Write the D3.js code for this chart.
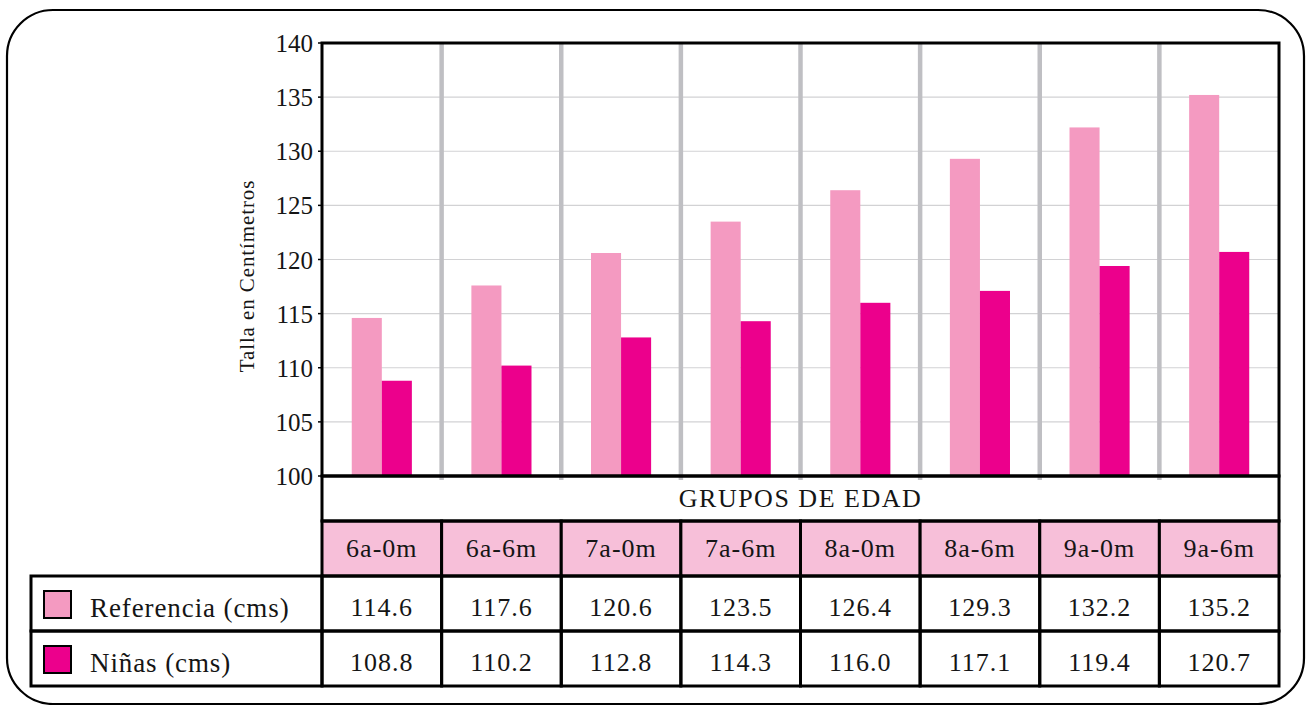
<!DOCTYPE html>
<html><head><meta charset="utf-8">
<script src="https://cdn.jsdelivr.net/npm/d3@7/dist/d3.min.js"></script>
<style>body{margin:0;background:#fff}svg{display:block}</style>
</head><body><svg id="c" width="1311" height="705" font-family="'Liberation Serif','Times New Roman',serif"></svg>
<script>
const categories = ["6a-0m","6a-6m","7a-0m","7a-6m","8a-0m","8a-6m","9a-0m","9a-6m"];
const seriesNames = ["Referencia (cms)","Niñas (cms)"];
const referencia = [114.6,117.6,120.6,123.5,126.4,129.3,132.2,135.2];
const ninas = [108.8,110.2,112.8,114.3,116.0,117.1,119.4,120.7];
const yTicks = [100,105,110,115,120,125,130,135,140];
const yTitle = "Talla en Centímetros";
const groupTitle = "GRUPOS DE EDAD";

const colors = ["#f49ac1","#ec008c"];
const series = [referencia, ninas];
const ink = "#151515";

const svg = d3.select("#c");
const L = 322, R = 1279, T = 43, B = 476;
const y = d3.scaleLinear().domain([100,140]).range([B,T]);
const x = d3.scaleBand().domain(categories).range([L,R]).paddingInner(0).paddingOuter(0);
const xs = d3.scaleBand().domain(d3.range(series.length)).range([0,x.bandwidth()]).paddingInner(0).paddingOuter(0.99);

// outer rounded frame
svg.append("rect").attr("x",7).attr("y",10).attr("width",1297).attr("height",694)
  .attr("rx",46).attr("ry",46).attr("fill","none").attr("stroke","#000").attr("stroke-width",2.2);

// gridlines
svg.append("g").selectAll("line").data(yTicks).join("line")
  .attr("x1",L).attr("x2",R).attr("y1",d=>y(d)).attr("y2",d=>y(d))
  .attr("stroke","#d2d2d4").attr("stroke-width",1.2);

// bars
series.forEach((vals,si)=>{
  svg.append("g").selectAll("rect").data(vals).join("rect")
    .attr("x",(d,i)=>x(categories[i])+xs(si))
    .attr("width",xs.bandwidth())
    .attr("y",d=>y(d)).attr("height",d=>y(100)-y(d))
    .attr("fill",colors[si]);
});

// separators
svg.append("g").selectAll("line").data(categories.slice(1)).join("line")
  .attr("x1",d=>x(d)).attr("x2",d=>x(d)).attr("y1",T).attr("y2",B+4)
  .attr("stroke","#bfbfc3").attr("stroke-width",4.5);

// y tick labels
svg.append("g").selectAll("text").data(yTicks).join("text")
  .attr("x",L-9).attr("y",d=>y(d)+9).attr("text-anchor","end")
  .attr("font-size",25).attr("fill",ink).text(d=>d);
// small ticks
svg.append("g").selectAll("line").data(yTicks).join("line")
  .attr("x1",L-4).attr("x2",L).attr("y1",d=>y(d)).attr("y2",d=>y(d))
  .attr("stroke","#000").attr("stroke-width",1.5);

// y title
svg.append("text").attr("transform","translate(254,276) rotate(-90)")
  .attr("text-anchor","middle").attr("font-size",21).attr("letter-spacing",0.9)
  .attr("fill",ink).text(yTitle);

// plot border
svg.append("rect").attr("x",L).attr("y",T).attr("width",R-L).attr("height",B-T)
  .attr("fill","none").attr("stroke","#000").attr("stroke-width",3);

// table
const rGroupTop = B, rHeadTop = 521, r1Top = 576, r2Top = 631, rBot = 686;
svg.append("g").selectAll("rect").data(categories).join("rect")
  .attr("x",d=>x(d)).attr("y",rHeadTop).attr("width",x.bandwidth()).attr("height",r1Top-rHeadTop)
  .attr("fill","#f7bfd9").attr("stroke","#000").attr("stroke-width",3);
svg.append("rect").attr("x",L).attr("y",rGroupTop).attr("width",R-L).attr("height",rHeadTop-rGroupTop)
  .attr("fill","none").attr("stroke","#000").attr("stroke-width",3);
svg.append("text").attr("x",(L+R)/2).attr("y",rGroupTop+31).attr("text-anchor","middle")
  .attr("font-size",26).attr("letter-spacing",1.5).attr("fill",ink).text(groupTitle);
svg.append("g").selectAll("text").data(categories).join("text")
  .attr("x",d=>x(d)+x.bandwidth()/2).attr("y",rHeadTop+36).attr("text-anchor","middle")
  .attr("font-size",26).attr("letter-spacing",1).attr("fill",ink).text(d=>d);

const rowTops = [r1Top, r2Top];
series.forEach((vals,si)=>{
  const top = rowTops[si], h = (si===0? r2Top-r1Top : rBot-r2Top);
  svg.append("rect").attr("x",31).attr("y",top).attr("width",L-31).attr("height",h)
    .attr("fill","none").attr("stroke","#000").attr("stroke-width",3);
  svg.append("rect").attr("x",44).attr("y",top+15).attr("width",27).attr("height",27)
    .attr("fill",colors[si]).attr("stroke","#000").attr("stroke-width",2);
  svg.append("text").attr("x",90).attr("y",top+41).attr("font-size",27).attr("letter-spacing",0.9)
    .attr("fill",ink).text(seriesNames[si]);
  svg.append("g").selectAll("rect").data(categories).join("rect")
    .attr("x",d=>x(d)).attr("y",top).attr("width",x.bandwidth()).attr("height",h)
    .attr("fill","none").attr("stroke","#000").attr("stroke-width",3);
  svg.append("g").selectAll("text").data(vals).join("text")
    .attr("x",(d,i)=>x(categories[i])+x.bandwidth()/2).attr("y",top+40).attr("text-anchor","middle")
    .attr("font-size",26).attr("letter-spacing",1).attr("fill",ink).text(d=>d.toFixed(1));
});
</script></body></html>
